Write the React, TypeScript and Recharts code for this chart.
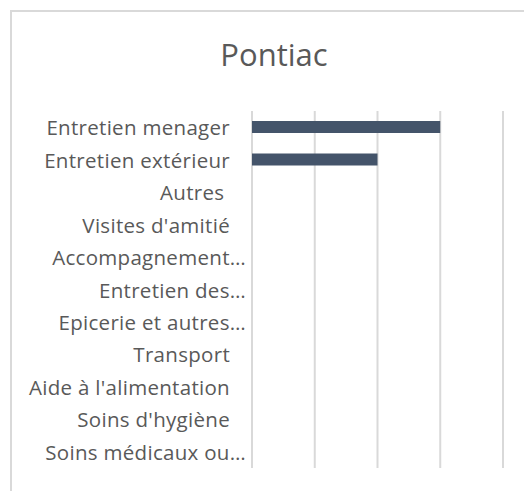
import { Bar, BarChart, CartesianGrid, XAxis, YAxis } from "recharts";

const categories = [
  "Entretien menager",
  "Entretien extérieur",
  "Autres ",
  "Visites d'amitié",
  "Accompagnement…",
  "Entretien des…",
  "Epicerie et autres…",
  "Transport",
  "Aide à l'alimentation",
  "Soins d'hygiène",
  "Soins médicaux ou…",
];
const values = [3, 2, 0, 0, 0, 0, 0, 0, 0, 0, 0];
const xTicks = [0, 1, 2, 3, 4];

const data = categories.map((name, i) => ({ name, value: values[i] }));

const PLOT_LEFT = 252;
const FONT = "'Open Sans', sans-serif";

function CategoryTick({ y, payload }: any) {
  const label: string = payload.value;
  const cut = label.endsWith("…");
  return (
    <text
      x={PLOT_LEFT - (cut ? 6 : 22)}
      y={y}
      dy={8}
      textAnchor="end"
      fill="#595959"
      fontSize={20.5}
      letterSpacing={0.3}
      fontFamily={FONT}
      style={{ whiteSpace: "pre" }}
    >
      {label}
    </text>
  );
}

export default function App() {
  return (
    <div
      style={{
        position: "absolute",
        left: 0,
        top: 0,
        width: 524,
        height: 491,
        overflow: "hidden",
        background: "#fff",
      }}
    >
      <div
        style={{
          position: "absolute",
          left: 10,
          top: 10,
          width: 600,
          height: 600,
          border: "2px solid #d9d9d9",
        }}
      />
      <div
        style={{
          position: "absolute",
          left: 0,
          top: 34,
          width: 548,
          textAlign: "center",
          fontFamily: FONT,
          fontSize: 31,
          color: "#595959",
          lineHeight: "40px",
        }}
      >
        Pontiac
      </div>
      <div style={{ position: "absolute", left: 0, top: 0 }}>
        <BarChart
          width={524}
          height={491}
          data={data}
          layout="vertical"
          margin={{ top: 111, right: 21, bottom: 23, left: 0 }}
        >
          <CartesianGrid horizontal={false} stroke="#d9d9d9" strokeWidth={2} />
          <XAxis type="number" domain={[0, 4]} ticks={xTicks} hide />
          <YAxis
            type="category"
            dataKey="name"
            width={PLOT_LEFT}
            interval={0}
            tickLine={false}
            axisLine={false}
            tick={<CategoryTick />}
          />
          <Bar dataKey="value" fill="#44546a" barSize={12} isAnimationActive={false} />
        </BarChart>
      </div>
    </div>
  );
}
